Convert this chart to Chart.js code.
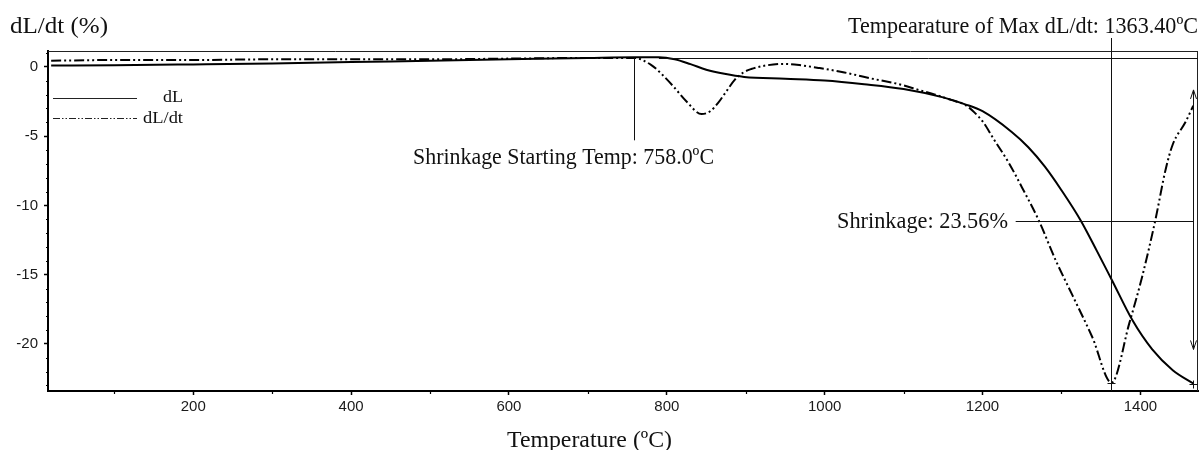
<!DOCTYPE html>
<html>
<head>
<meta charset="utf-8">
<script src="https://cdn.jsdelivr.net/npm/chart.js@4.4.1/dist/chart.umd.min.js"></script>
<style>
  html, body { margin: 0; padding: 0; background: #fff; }
  #wrap { width: 1201px; height: 450px; }
</style>
</head>
<body>
<div id="wrap"><canvas id="c" width="1201" height="450"></canvas></div>
<script>
// ---------------- data ----------------
const dlTemp = [20, 100, 200, 300, 400, 500, 600, 700, 760, 790, 810, 830, 850, 873, 898, 950, 1000, 1050, 1100, 1150, 1178, 1200, 1237, 1258, 1279, 1300, 1324, 1345, 1364, 1390, 1415, 1441, 1467];
const dlVal  = [0.1, 0.12, 0.18, 0.25, 0.35, 0.45, 0.55, 0.65, 0.7, 0.7, 0.55, 0.2, -0.2, -0.5, -0.72, -0.85, -0.98, -1.25, -1.6, -2.2, -2.7, -3.2, -4.7, -5.8, -7.2, -8.9, -11.05, -13.3, -15.4, -18.3, -20.4, -21.9, -22.86];

const dldtTemp = [20, 100, 200, 300, 400, 500, 600, 700, 758, 780, 795, 809, 825, 844, 855, 865, 875, 886, 897, 907, 925, 949, 970, 992, 1025, 1056, 1098, 1119, 1140, 1161, 1178, 1190, 1201, 1214, 1233, 1250, 1271, 1293, 1314, 1339, 1363.4, 1386, 1402, 1419, 1432, 1441, 1457, 1467];
const dldtVal  = [0.45, 0.5, 0.5, 0.55, 0.55, 0.55, 0.6, 0.65, 0.65, 0.15, -0.6, -1.45, -2.5, -3.4, -3.2, -2.6, -1.8, -0.94, -0.4, -0.15, 0.1, 0.22, 0.12, -0.07, -0.4, -0.8, -1.3, -1.66, -2.0, -2.4, -2.74, -3.3, -4.0, -5.2, -6.9, -8.7, -11.05, -14.0, -16.5, -19.5, -22.8, -18.5, -15.2, -11.05, -7.4, -5.6, -4.0, -2.8];

const xTickLabels = [200, 400, 600, 800, 1000, 1200, 1400];
const xMinorTicks = [100, 300, 500, 700, 900, 1100, 1300];
const yTickLabels = [0, -5, -10, -15, -20];
const yMinorTicks = [1, -1, -2, -3, -4, -6, -7, -8, -9, -11, -12, -13, -14, -16, -17, -18, -19, -21, -22, -23];

// annotation values
const startTemp = 758.0;        // shrinkage starting temperature
const maxRateTemp = 1363.4;     // temperature of max dL/dt
const maxRateVal = -22.8;
const dlMaxVal = 0.65;          // reference level (max dL)
const dlMaxTemp = 790;
const endTemp = 1467;
const endVal = -22.86;
const shrinkLevel = -11.1;
const shrinkLineStartTemp = 1242;
const arrowTop = -1.66;
const arrowBottom = -20.4;
const startLineBottom = -5.3;

const SERIF = '"Liberation Serif", "Times New Roman", serif';
const SANS = '"Liberation Sans", Arial, sans-serif';

function fitText(ctx, str, x, y, size, align, width) {
  ctx.save();
  ctx.font = size + 'px ' + SERIF;
  ctx.fillStyle = '#111';
  ctx.textBaseline = 'alphabetic';
  const w = ctx.measureText(str).width;
  const sx = width ? width / w : 1;
  ctx.translate(x, y);
  ctx.scale(sx, 1);
  ctx.textAlign = align;
  ctx.fillText(str, 0, 0);
  ctx.restore();
}

const annot = {
  id: 'annot',
  afterDraw(chart) {
    const ctx = chart.ctx;
    const xs = chart.scales.x, ys = chart.scales.y;
    const a = chart.chartArea;
    const X = v => xs.getPixelForValue(v);
    const Y = v => ys.getPixelForValue(v);
    ctx.save();
    // frame (top & right)
    ctx.strokeStyle = '#222';
    ctx.lineWidth = 1;
    ctx.beginPath();
    ctx.moveTo(a.left, a.top + 0.5); ctx.lineTo(a.right, a.top + 0.5);
    ctx.moveTo(a.right - 0.5, a.top); ctx.lineTo(a.right - 0.5, a.bottom);
    ctx.stroke();
    // minor ticks
    ctx.strokeStyle = '#000';
    ctx.lineWidth = 1.2;
    ctx.beginPath();
    xMinorTicks.forEach(v => { const px = Math.round(X(v)) + 0.5; ctx.moveTo(px, a.bottom); ctx.lineTo(px, a.bottom + 3); });
    yMinorTicks.forEach(v => { const py = Math.round(Y(v)) + 0.5; if (py > a.top && py < a.bottom) { ctx.moveTo(a.left - 2, py); ctx.lineTo(a.left, py); } });
    ctx.stroke();

    // reference lines
    ctx.strokeStyle = '#111';
    ctx.lineWidth = 1;
    ctx.beginPath();
    ctx.moveTo(X(dlMaxTemp), Math.round(Y(dlMaxVal)) + 0.5); ctx.lineTo(a.right, Math.round(Y(dlMaxVal)) + 0.5);
    ctx.moveTo(Math.round(X(startTemp)) + 0.5, Y(dlMaxVal)); ctx.lineTo(Math.round(X(startTemp)) + 0.5, Y(startLineBottom));
    ctx.moveTo(Math.round(X(maxRateTemp)) + 0.5, 38); ctx.lineTo(Math.round(X(maxRateTemp)) + 0.5, a.bottom);
    ctx.moveTo(X(shrinkLineStartTemp), Math.round(Y(shrinkLevel)) + 0.5); ctx.lineTo(X(endTemp), Math.round(Y(shrinkLevel)) + 0.5);
    const ax = Math.round(X(endTemp)) + 0.5;
    ctx.moveTo(ax, Y(arrowTop)); ctx.lineTo(ax, Y(arrowBottom));
    ctx.moveTo(ax - 3, Y(arrowTop) + 9); ctx.lineTo(ax, Y(arrowTop)); ctx.lineTo(ax + 3, Y(arrowTop) + 9);
    ctx.moveTo(ax - 3, Y(arrowBottom) - 9); ctx.lineTo(ax, Y(arrowBottom)); ctx.lineTo(ax + 3, Y(arrowBottom) - 9);
    [[maxRateTemp, maxRateVal], [endTemp, endVal]].forEach(p => {
      const px = Math.round(X(p[0])) + 0.5, py = Math.round(Y(p[1])) + 0.5;
      ctx.moveTo(px - 4, py); ctx.lineTo(px + 4, py);
      ctx.moveTo(px, py - 4); ctx.lineTo(px, py + 4);
    });
    ctx.stroke();

    // legend
    ctx.strokeStyle = '#222';
    ctx.lineWidth = 1;
    ctx.beginPath(); ctx.moveTo(53, 98.5); ctx.lineTo(137, 98.5); ctx.stroke();
    ctx.setLineDash([7, 2, 1.5, 2, 1.5, 2]);
    ctx.beginPath(); ctx.moveTo(53, 118.5); ctx.lineTo(137, 118.5); ctx.stroke();
    ctx.setLineDash([]);
    fitText(ctx, 'dL', 183, 102, 17, 'right', 20);
    fitText(ctx, 'dL/dt', 183, 123, 17, 'right', 40);

    // texts
    fitText(ctx, 'dL/dt (%)', 10, 33, 23, 'left', 98);
    fitText(ctx, 'Tempearature of Max dL/dt: 1363.40ºC', 1198, 33, 23, 'right', 350);
    fitText(ctx, 'Shrinkage Starting Temp: 758.0ºC', 413, 164, 23, 'left', 301);
    fitText(ctx, 'Shrinkage: 23.56%', 1008, 228, 23, 'right', 171);
    fitText(ctx, 'Temperature (ºC)', 507, 447, 23, 'left', 165);
    ctx.restore();
  }
};

const ctx = document.getElementById('c').getContext('2d');
new Chart(ctx, {
  type: 'line',
  data: {
    datasets: [
      {
        label: 'dL',
        data: dlTemp.map((t, i) => ({ x: t, y: dlVal[i] })),
        borderColor: '#000',
        borderWidth: 2,
        pointRadius: 0,
        fill: false,
        cubicInterpolationMode: 'monotone'
      },
      {
        label: 'dL/dt',
        data: dldtTemp.map((t, i) => ({ x: t, y: dldtVal[i] })),
        borderColor: '#000',
        borderWidth: 2,
        borderDash: [10, 3, 2, 3, 2, 3],
        pointRadius: 0,
        fill: false,
        cubicInterpolationMode: 'monotone'
      }
    ]
  },
  options: {
    responsive: false,
    animation: false,
    layout: { padding: { top: 51, right: 3, left: 0, bottom: 0 } },
    plugins: { legend: { display: false }, tooltip: { enabled: false } },
    scales: {
      x: {
        type: 'linear',
        min: 16,
        max: 1473,
        afterBuildTicks: s => { s.ticks = xTickLabels.map(v => ({ value: v })); },
        afterFit: s => { s.height = 59; },
        grid: { drawOnChartArea: false, drawTicks: true, tickLength: 4, tickColor: '#000', tickWidth: 1.5 },
        border: { display: true, color: '#000', width: 2 },
        ticks: { color: '#1a1a1a', font: { family: SANS, size: 15 }, padding: 3, maxRotation: 0, autoSkip: false, callback: v => String(v) }
      },
      y: {
        type: 'linear',
        min: -23.4,
        max: 1.15,
        afterBuildTicks: s => { s.ticks = yTickLabels.slice().reverse().map(v => ({ value: v })); },
        afterFit: s => { s.width = 48; },
        grid: { drawOnChartArea: false, drawTicks: true, tickLength: 4, tickColor: '#000', tickWidth: 1.5 },
        border: { display: true, color: '#000', width: 2 },
        ticks: { color: '#1a1a1a', font: { family: SANS, size: 15 }, padding: 6, autoSkip: false, callback: v => String(v) }
      }
    }
  },
  plugins: [annot]
});
</script>
</body>
</html>
